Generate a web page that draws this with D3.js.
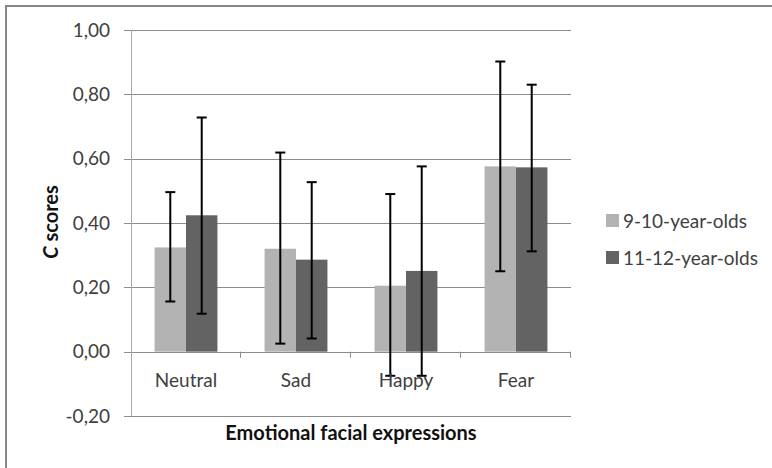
<!DOCTYPE html>
<html>
<head>
<meta charset="utf-8">
<script src="https://cdn.jsdelivr.net/npm/d3@7"></script>
<style>
  body { margin: 0; background: #fff; }
  text { font-family: Lato, "Open Sans", sans-serif; fill: #404040; }
</style>
</head>
<body>
<svg width="772" height="468"></svg>
<script>
// data
var categories = ["Neutral", "Sad", "Happy", "Fear"];
var seriesNames = ["9-10-year-olds", "11-12-year-olds"];
var young = [0.324, 0.320, 0.205, 0.576];
var old = [0.424, 0.286, 0.251, 0.573];
var youngLow = [0.156, 0.025, -0.075, 0.250];
var youngHigh = [0.496, 0.619, 0.490, 0.902];
var oldLow = [0.118, 0.041, -0.075, 0.312];
var oldHigh = [0.728, 0.527, 0.576, 0.830];
var yTicks = [-0.2, 0, 0.2, 0.4, 0.6, 0.8, 1.0];
var colors = ["#b3b3b3", "#636363"];

var svg = d3.select("svg");

// outer chart frame (runs off the right and bottom edges)
svg.append("rect")
  .attr("x", 6).attr("y", 6)
  .attr("width", 800).attr("height", 500)
  .attr("fill", "none")
  .attr("stroke", "#878787")
  .attr("stroke-width", 2);

var pLeft = 131, pRight = 571, pTop = 30, pBottom = 416;

var y = d3.scaleLinear().domain([-0.2, 1.0]).range([pBottom, pTop]);
var x = d3.scaleBand().domain(categories).range([pLeft, pRight]);
// excel style gap width 150% -> outer padding 0.75 bar width each side
var xs = d3.scaleBand().domain([0, 1]).range([0, x.bandwidth()]).paddingInner(0).paddingOuter(0.75);

// gridlines
svg.append("g").selectAll("line")
  .data(yTicks)
  .enter().append("line")
  .attr("x1", pLeft - 7).attr("x2", pRight)
  .attr("y1", function(d){ return Math.round(y(d)) + 0.5; })
  .attr("y2", function(d){ return Math.round(y(d)) + 0.5; })
  .attr("stroke", "#8c8c8c").attr("stroke-width", 1);

// y tick labels
svg.append("g").selectAll("text")
  .data(yTicks)
  .enter().append("text")
  .attr("x", 110)
  .attr("y", function(d){ return y(d); })
  .attr("dy", "0.35em")
  .attr("text-anchor", "end")
  .style("font-size", "19px")
  .text(function(d){ return d3.format(".2f")(d).replace(".", ",").replace("\u2212", "-"); });

// vertical axis
svg.append("line")
  .attr("x1", pLeft + 0.5).attr("x2", pLeft + 0.5)
  .attr("y1", pTop).attr("y2", pBottom)
  .attr("stroke", "#a6a6a6");

// category tick marks on the zero line
var tickX = categories.map(function(c){ return x(c) + x.bandwidth(); });
svg.append("g").selectAll("line")
  .data(tickX)
  .enter().append("line")
  .attr("x1", function(d){ return Math.round(d) - 0.5; })
  .attr("x2", function(d){ return Math.round(d) - 0.5; })
  .attr("y1", y(0)).attr("y2", y(0) + 6)
  .attr("stroke", "#8c8c8c");

// bars
var rows = [];
categories.forEach(function(c, i){
  rows.push({cat: c, s: 0, v: young[i], lo: youngLow[i], hi: youngHigh[i]});
  rows.push({cat: c, s: 1, v: old[i], lo: oldLow[i], hi: oldHigh[i]});
});

svg.append("g").selectAll("rect")
  .data(rows)
  .enter().append("rect")
  .attr("x", function(d){ return x(d.cat) + xs(d.s); })
  .attr("width", xs.bandwidth())
  .attr("y", function(d){ return y(Math.max(0, d.v)); })
  .attr("height", function(d){ return Math.abs(y(d.v) - y(0)); })
  .attr("fill", function(d){ return colors[d.s]; });

// error bars
var eb = svg.append("g").selectAll("g")
  .data(rows)
  .enter().append("g")
  .attr("stroke", "#000")
  .attr("stroke-width", 2);

function cx(d){ return x(d.cat) + xs(d.s) + xs.bandwidth() / 2; }

eb.append("line")
  .attr("x1", cx).attr("x2", cx)
  .attr("y1", function(d){ return y(d.lo); })
  .attr("y2", function(d){ return y(d.hi); });
eb.append("line")
  .attr("x1", function(d){ return cx(d) - 5; })
  .attr("x2", function(d){ return cx(d) + 5; })
  .attr("y1", function(d){ return y(d.hi); })
  .attr("y2", function(d){ return y(d.hi); });
eb.append("line")
  .attr("x1", function(d){ return cx(d) - 5; })
  .attr("x2", function(d){ return cx(d) + 5; })
  .attr("y1", function(d){ return y(d.lo); })
  .attr("y2", function(d){ return y(d.lo); });

// category labels
svg.append("g").selectAll("text")
  .data(categories)
  .enter().append("text")
  .attr("x", function(d){ return x(d) + x.bandwidth() / 2; })
  .attr("y", 387)
  .attr("text-anchor", "middle")
  .style("font-size", "19px")
  .text(function(d){ return d; });

// axis titles
svg.append("text")
  .attr("x", 351).attr("y", 440)
  .attr("text-anchor", "middle")
  .style("font-size", "20px")
  .style("font-weight", "bold")
  .style("fill", "#111")
  .text("Emotional facial expressions");

var yt = svg.append("text")
  .attr("transform", "translate(58,222) rotate(-90)")
  .attr("text-anchor", "middle")
  .style("font-size", "20px")
  .style("font-weight", "bold")
  .style("fill", "#111");
yt.append("tspan").style("font-style", "italic").text("C");
yt.append("tspan").text(" scores");

// legend
var lg = svg.append("g").selectAll("g")
  .data(seriesNames)
  .enter().append("g")
  .attr("transform", function(d, i){ return "translate(606," + (214 + i * 37) + ")"; });
lg.append("rect")
  .attr("width", 13).attr("height", 13)
  .attr("fill", function(d, i){ return colors[i]; });
lg.append("text")
  .attr("x", 17).attr("y", 7)
  .attr("dy", "0.35em")
  .style("font-size", "19px")
  .text(function(d){ return d; });
</script>
</body>
</html>
